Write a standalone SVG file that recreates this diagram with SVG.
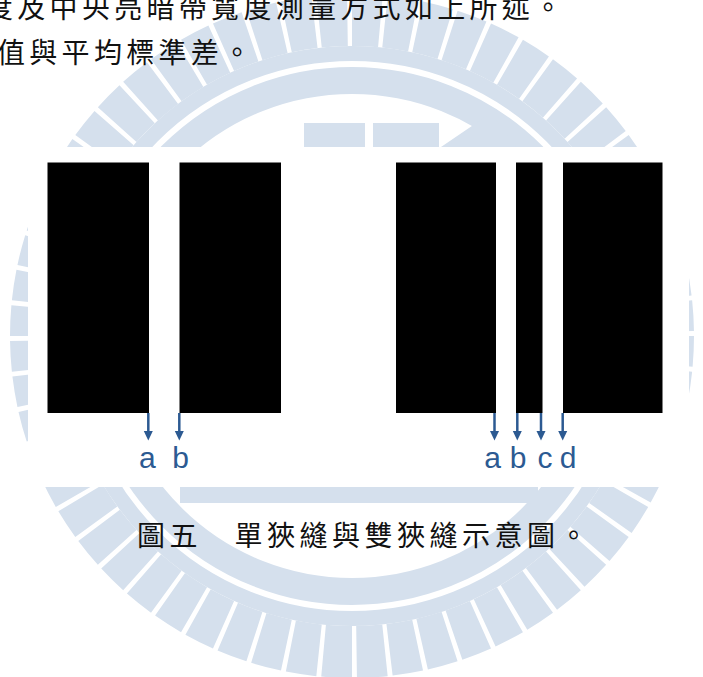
<svg xmlns="http://www.w3.org/2000/svg" width="703" height="677" viewBox="0 0 703 677">
<style>
.wm{fill:none;stroke:#D5E0ED}
.wmf{fill:#D5E0ED}
.body{font-family:"Noto Sans CJK TC","Noto Sans CJK SC",sans-serif;font-size:28px;fill:#111;letter-spacing:4.3px}
.cap{font-family:"Noto Sans CJK TC","Noto Sans CJK SC",sans-serif;font-size:28px;fill:#111;letter-spacing:4.5px}
.bar{fill:#000}
.lbl{font-family:"Liberation Sans",Arial,sans-serif;font-size:30px;fill:#2C5A92;text-anchor:middle}
.arr{stroke:#2C5A92;stroke-width:2.5;fill:none}
</style>
<defs>
<marker id="ah" markerWidth="4" markerHeight="4" refX="2.2" refY="2" orient="auto" markerUnits="strokeWidth">
<path d="M0,0.1 L4,2 L0,3.9 z" fill="#2C5A92"/>
</marker>
</defs>
<rect width="703" height="677" fill="#fff"/>
<g id="watermark">
<circle class="wm" cx="352" cy="336" r="255.5" stroke-width="27"/>
<circle class="wm" cx="352" cy="336" r="282.5" stroke-width="15"/>
<circle class="wm" cx="352" cy="336" r="316" stroke-width="52" pathLength="600" stroke-dasharray="8.6 1.4"/>
<rect class="wmf" x="304" y="123" width="61" height="24"/>
<rect class="wmf" x="373" y="123" width="66" height="24"/>
<polygon class="wmf" points="441,147 491,113 516,147"/>
<rect class="wmf" x="180" y="487" width="358" height="16"/>
</g>
<g id="paragraph">
<text class="body" x="-15" y="18">度及中央亮暗帶寬度測量方式如上所述。</text>
<text class="body" x="-3" y="63">值與平均標準差。</text>
</g>
<g id="figure">
<rect x="28" y="147" width="661" height="340" fill="#fff"/>
<g id="single-slit">
<rect class="bar" x="47.5" y="162.5" width="101.5" height="250.5"/>
<rect class="bar" x="179.5" y="162.5" width="101.5" height="250.5"/>
</g>
<g id="double-slit">
<rect class="bar" x="396" y="162.5" width="100" height="250.5"/>
<rect class="bar" x="516" y="162.5" width="26.5" height="250.5"/>
<rect class="bar" x="563" y="162.5" width="99.5" height="250.5"/>
</g>
<g id="connectors">
<line class="arr" x1="148.3" y1="413" x2="148.3" y2="436" marker-end="url(#ah)"/>
<line class="arr" x1="179.3" y1="413" x2="179.3" y2="436" marker-end="url(#ah)"/>
<line class="arr" x1="494.5" y1="413" x2="494.5" y2="436" marker-end="url(#ah)"/>
<line class="arr" x1="517.3" y1="413" x2="517.3" y2="436" marker-end="url(#ah)"/>
<line class="arr" x1="541" y1="413" x2="541" y2="436" marker-end="url(#ah)"/>
<line class="arr" x1="562.7" y1="413" x2="562.7" y2="436" marker-end="url(#ah)"/>
</g>
<g id="labels">
<text class="lbl" x="147.3" y="468">a</text>
<text class="lbl" x="180.5" y="468">b</text>
<text class="lbl" x="492.7" y="468">a</text>
<text class="lbl" x="518" y="468">b</text>
<text class="lbl" x="545" y="468">c</text>
<text class="lbl" x="568" y="468">d</text>
</g>
</g>
<g id="caption">
<text class="cap" x="137" y="546">圖五　單狹縫與雙狹縫示意圖。</text>
</g>
</svg>
